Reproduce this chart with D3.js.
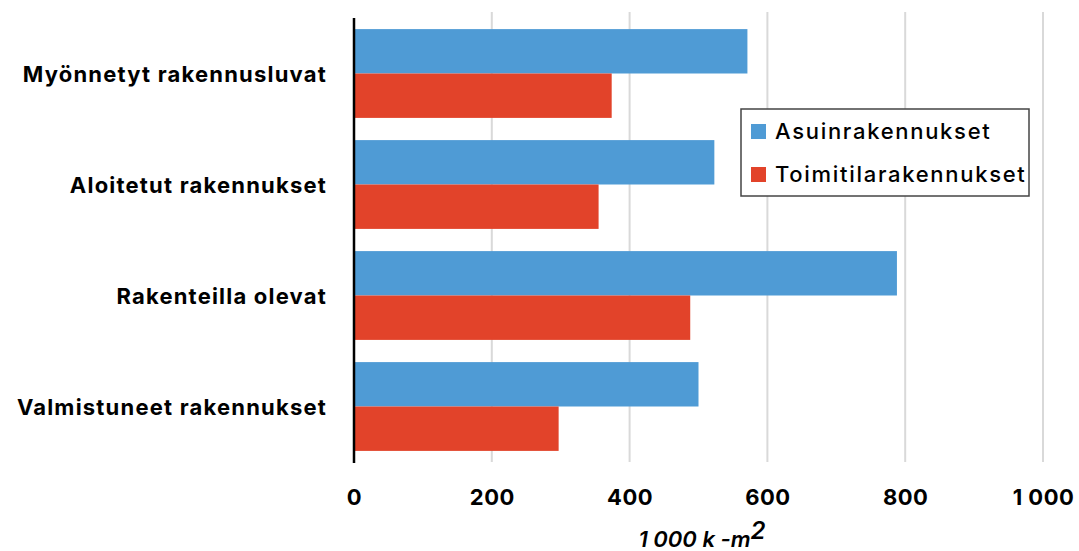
<!DOCTYPE html>
<html><head><meta charset="utf-8">
<script src="https://cdn.jsdelivr.net/npm/d3@7"></script>
<style>
html,body{margin:0;padding:0;background:#fff;}
svg text{font-family:Inter,"Liberation Sans",sans-serif;}
</style></head>
<body>
<svg id="chart" width="1079" height="551"></svg>
<script>
const categories = ["Myönnetyt rakennusluvat","Aloitetut rakennukset","Rakenteilla olevat","Valmistuneet rakennukset"];
const seriesNames = ["Asuinrakennukset","Toimitilarakennukset"];
const asuin = [571, 523, 788, 500];
const toimitila = [374, 355, 488, 297];
const xTicks = [0, 200, 400, 600, 800, 1000];
const colors = ["#4f9bd5", "#e2432a"];

const svg = d3.select("#chart");
const plotLeft = 354, plotRight = 1043, plotTop = 18, plotBottom = 462;

const x = d3.scaleLinear().domain([0, 1000]).range([plotLeft, plotRight]);
const y = d3.scaleBand().domain(categories).range([plotTop, plotBottom]).paddingInner(0.2).paddingOuter(0.1);
const ySub = d3.scaleBand().domain(seriesNames).range([0, y.bandwidth()]);

// vertical gridlines
svg.append("g").selectAll("line").data(xTicks.slice(1)).join("line")
  .attr("x1", d => x(d)).attr("x2", d => x(d))
  .attr("y1", 12).attr("y2", plotBottom)
  .attr("stroke", "#d9d9d9").attr("stroke-width", 2);

// bars
const rows = categories.map((c, i) => ({cat: c, vals: [asuin[i], toimitila[i]]}));
const g = svg.append("g").selectAll("g").data(rows).join("g")
  .attr("transform", d => `translate(0,${y(d.cat)})`);
g.selectAll("rect").data(d => d.vals.map((v, j) => ({v, s: seriesNames[j], j}))).join("rect")
  .attr("x", x(0)).attr("y", d => ySub(d.s))
  .attr("width", d => x(d.v) - x(0)).attr("height", ySub.bandwidth())
  .attr("fill", d => colors[d.j]);

// category axis
svg.append("line").attr("x1", x(0)).attr("x2", x(0)).attr("y1", plotTop).attr("y2", plotBottom + 1)
  .attr("stroke", "#000").attr("stroke-width", 2.5);
svg.append("g").selectAll("text").data(categories).join("text")
  .attr("x", 327).attr("y", d => y(d) + y.bandwidth() / 2 + 8)
  .attr("text-anchor", "end").attr("font-size", 22).attr("font-weight", 700)
  .attr("letter-spacing", "1.2px")
  .attr("fill", "#000").text(d => d);

// value axis labels
const xAxis = d3.axisBottom(x).tickValues(xTicks).tickSize(0).tickPadding(0)
  .tickFormat(d => d3.format(",")(d).replace(",", " "));
const ax = svg.append("g").attr("transform", `translate(0,${plotBottom + 43})`).call(xAxis);
ax.select(".domain").remove();
ax.selectAll("text").attr("font-size", 22).attr("font-weight", 700).attr("fill", "#000")
  .attr("letter-spacing", "0.5px")
  .attr("font-family", "Inter, Liberation Sans, sans-serif").attr("dy", 0);

// axis title
const t = svg.append("text").attr("x", 702).attr("y", 547).attr("text-anchor", "middle")
  .attr("font-size", 22).attr("font-style", "italic").attr("font-weight", 600).attr("fill", "#000");
t.append("tspan").text("1 000 k -m");
t.append("tspan").attr("dy", -8).attr("font-size", 24).text("2");

// legend
const lg = svg.append("g");
lg.append("rect").attr("x", 741).attr("y", 109).attr("width", 288).attr("height", 87)
  .attr("fill", "#fff").attr("stroke", "#444").attr("stroke-width", 1.5);
seriesNames.forEach((s, i) => {
  const yy = 131 + i * 43;
  lg.append("rect").attr("x", 751).attr("y", yy - 7).attr("width", 15).attr("height", 15).attr("fill", colors[i]);
  lg.append("text").attr("x", 775).attr("y", yy + 8).attr("font-size", 22).attr("font-weight", 500)
    .attr("letter-spacing", "1.7px")
    .attr("fill", "#000").text(s);
});
</script>
</body></html>
